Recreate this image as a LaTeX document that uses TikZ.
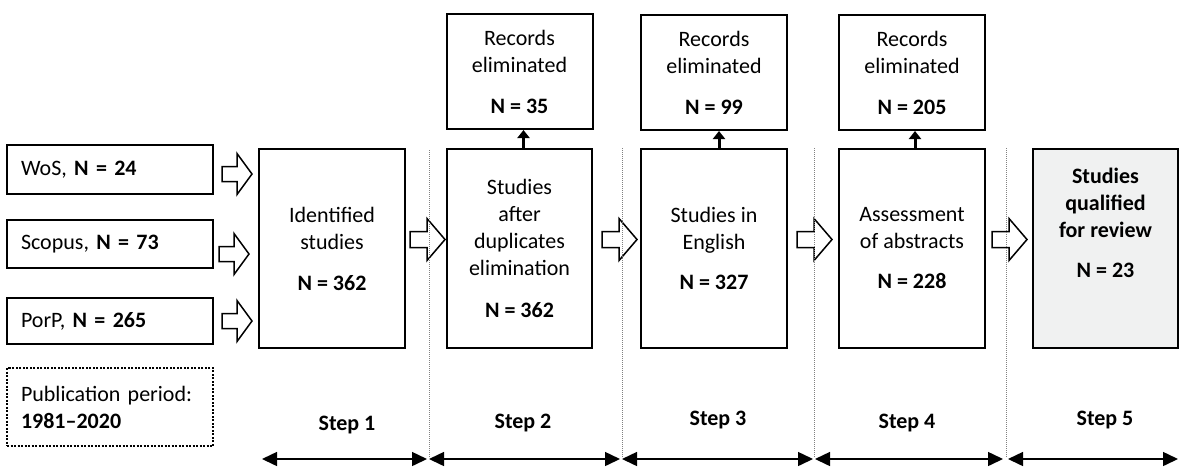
\documentclass[tikz,border=0pt]{standalone}
\usepackage{fontspec}
\setmainfont{Carlito}
\usetikzlibrary{arrows.meta,calc}
\definecolor{qfill}{RGB}{240,241,241}
\begin{document}
\begin{tikzpicture}[x=1pt,y=-1pt,
  every node/.style={font=\fontsize{22}{27}\selectfont, inner sep=0pt},
  box/.style={draw, line width=2pt, align=center},
  mainbox/.style={box, minimum width=146pt, minimum height=199pt},
  recbox/.style={box, minimum width=146pt, minimum height=115pt},
  srcbox/.style={draw, line width=2pt, text width=178pt, align=left, inner xsep=14pt, minimum height=48pt},
  blockarrow/.pic={\draw[line width=1.5pt, line join=miter, fill=white]
      (0,0) -- (-18,-21) -- (-18,-8) -- (-35,-8) -- (-35,8) -- (-18,8) -- (-18,21) -- cycle;},
  srcarrow/.pic={\draw[line width=1.5pt, line join=miter, fill=white]
      (0,0) -- (-15,-20.5) -- (-15,-7.5) -- (-30,-7.5) -- (-30,7.5) -- (-15,7.5) -- (-15,20.5) -- cycle;},
  uparrow/.style={-{Triangle[length=8pt,width=12pt]}, line width=3pt},
  divider/.style={gray, line width=0.8pt, dash pattern=on 1pt off 1pt},
  span/.style={{Triangle[length=15pt,width=14pt]}-{Triangle[length=15pt,width=14pt]}, line width=1.5pt},
  steplabel/.style={font=\fontsize{22}{27}\selectfont\bfseries}
]
\useasboundingbox (0,0) rectangle (1180,467);

% source boxes
\node[srcbox, minimum height=49pt] (wos) at (110,169.5) {WoS, \textbf{N = 24}};
\node[srcbox] (scopus) at (110,244) {Scopus, \textbf{N = 73}};
\node[srcbox, minimum height=46pt] (porp) at (110,321) {PorP, \textbf{N = 265}};
\node[srcbox, minimum height=78pt, dash pattern=on 2pt off 1.5pt] (pub) at (110,407) {Publication period:\\\textbf{1981--2020}};

% main boxes
\node[mainbox] (id) at (332,248.5) {Identified\\studies\\[14pt]\textbf{N = 362}};
\node[mainbox, minimum width=145pt] (dup) at (519.5,248.5) {Studies\\after\\duplicates\\elimination\\[15pt]\textbf{N = 362}};
\node[mainbox] (eng) at (714,248.5) {Studies in\\English\\[13pt]\textbf{N = 327}};
\node[mainbox] (ass) at (912,248.5) {Assessment\\of abstracts\\[13pt]\textbf{N = 228}};
\node[mainbox, minimum width=145pt, fill=qfill] (qual) at (1105.5,248.5) {\textbf{Studies}\\\textbf{qualified}\\\textbf{for review}\\[13pt]\textbf{N = 23}\\[24pt]\mbox{}};

% records eliminated
\node[recbox] (r1) at (519.5,71.5) {Records\\eliminated\\[14pt]\textbf{N = 35}};
\node[recbox] (r2) at (714,72.5) {Records\\eliminated\\[14pt]\textbf{N = 99}};
\node[recbox] (r3) at (912,72.5) {Records\\eliminated\\[14pt]\textbf{N = 205}};

% source arrows
\coordinate (sa1) at (252,174);
\coordinate (sa2) at (249,254);
\coordinate (sa3) at (252,321);
\pic at (sa1) {srcarrow};
\pic at (sa2) {srcarrow};
\pic at (sa3) {srcarrow};

% hollow arrows between steps
\coordinate (a1) at ($(dup.west)+(-1,-9)$);
\coordinate (a2) at ($(eng.west)+(-3,-9)$);
\coordinate (a3) at ($(ass.west)+(-6,-9)$);
\coordinate (a4) at ($(qual.west)+(-5,-9)$);
\pic at (a1) {blockarrow};
\pic at (a2) {blockarrow};
\pic at (a3) {blockarrow};
\pic at (a4) {blockarrow};

% up arrows
\draw[uparrow] ([xshift=4pt]dup.north) -- ([xshift=4pt]r1.south);
\draw[uparrow] ([xshift=5pt]eng.north) -- ([xshift=5pt]r2.south);
\draw[uparrow] ([xshift=3pt]ass.north) -- ([xshift=3pt]r3.south);

% dividers
\coordinate (d1t) at (429,150); \coordinate (d1b) at (429,458);
\coordinate (d2t) at (622,148); \coordinate (d2b) at (622,458);
\coordinate (d3t) at (814,148); \coordinate (d3b) at (814,458);
\coordinate (d4t) at (1006,148); \coordinate (d4b) at (1006,458);
\draw[divider] (d1t) -- (d1b);
\draw[divider] (d2t) -- (d2b);
\draw[divider] (d3t) -- (d3b);
\draw[divider] (d4t) -- (d4b);

% step spans
\coordinate (s0) at (262,459); \coordinate (s1a) at (427,459);
\coordinate (s1b) at (429,459); \coordinate (s2a) at (620,459);
\coordinate (s2b) at (622,459); \coordinate (s3a) at (813,459);
\coordinate (s3b) at (815,459); \coordinate (s4a) at (1003,459);
\coordinate (s4b) at (1008,459); \coordinate (s5) at (1178,459);
\draw[span] (s0) -- (s1a);
\draw[span] (s1b) -- (s2a);
\draw[span] (s2b) -- (s3a);
\draw[span] (s3b) -- (s4a);
\draw[span] (s4b) -- (s5);

% step labels
\node[steplabel] (st1) at (347,425) {Step 1};
\node[steplabel] (st2) at (523,423) {Step 2};
\node[steplabel] (st3) at (718,420) {Step 3};
\node[steplabel] (st4) at (907,423) {Step 4};
\node[steplabel] (st5) at (1105,420) {Step 5};
\end{tikzpicture}
\end{document}
